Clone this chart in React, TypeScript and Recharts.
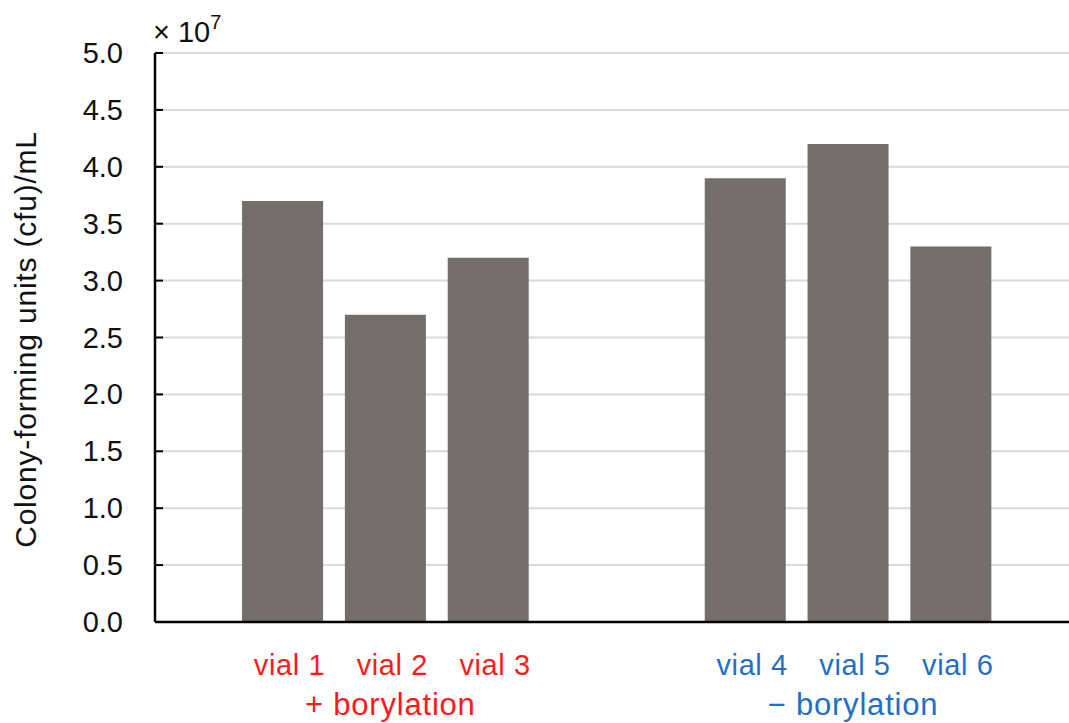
import React from 'react';
import { BarChart, Bar, XAxis, YAxis, CartesianGrid, Label } from 'recharts';

const vialLabels = ['vial 1', 'vial 2', 'vial 3', 'vial 4', 'vial 5', 'vial 6'];
const vialPositions = [1, 2, 3, 5.5, 6.5, 7.5];
const cfuValues = [3.7, 2.7, 3.2, 3.9, 4.2, 3.3];
const vialGroup = [0, 0, 0, 1, 1, 1];
const groupLabels = ['+ borylation', '\u2212 borylation'];
const groupColors = ['#ff1a1a', '#1f6fc5'];
const groupCenterIndex = [1, 4];
const yTicks = [0, 0.5, 1, 1.5, 2, 2.5, 3, 3.5, 4, 4.5, 5];

const FONT = '"Liberation Sans", Arial, Helvetica, sans-serif';
const TICK_MARGIN = 32;
const TEXT = '#111';

const data = vialPositions.map((pos, i) => ({ pos, label: vialLabels[i], value: cfuValues[i] }));

const XTick = (props: any) => {
  const { x, y, payload } = props;
  const i = vialPositions.indexOf(payload.value);
  if (i < 0) return null;
  const g = vialGroup[i];
  const color = groupColors[g];
  const gi = groupCenterIndex.indexOf(i);
  return (
    <g>
      <text x={x + 7} y={y + 53} textAnchor="middle" fill={color} fontSize={29} letterSpacing={0.6} fontFamily={FONT}>
        {vialLabels[i]}
      </text>
      {gi >= 0 && (
        <text x={x + 5} y={y + 93} textAnchor="middle" fill={color} fontSize={31} letterSpacing={0.8} fontFamily={FONT}>
          {groupLabels[gi]}
        </text>
      )}
    </g>
  );
};

const YTick = (props: any) => {
  const { x, y, payload } = props;
  const ax = x + TICK_MARGIN;
  return (
    <g>
      <line x1={ax} x2={ax + 8} y1={y} y2={y} stroke="#000" strokeWidth={2} />
      <text x={x} y={y} dy={10} textAnchor="end" fill={TEXT} fontSize={29} fontFamily={FONT}>
        {payload.value.toFixed(1)}
      </text>
    </g>
  );
};

const YTitle = (props: any) => {
  const vb = props.viewBox;
  const cx = 25;
  const cy = vb.y + vb.height / 2 + 2;
  return (
    <text
      x={cx}
      y={cy}
      transform={`rotate(-90, ${cx}, ${cy})`}
      textAnchor="middle"
      dominantBaseline="central"
      fill={TEXT}
      fontSize={30}
      letterSpacing={0.8}
      fontFamily={FONT}
    >
      Colony-forming units (cfu)/mL
    </text>
  );
};

const Multiplier = (props: any) => {
  const vb = props.viewBox;
  const x = vb.x + vb.width - 2;
  const y = vb.y - 11;
  return (
    <text x={x} y={y} fill={TEXT} fontSize={29} fontFamily={FONT}>
      <tspan>{'\u00d7 10'}</tspan>
      <tspan fontSize={20} dy={-13}>7</tspan>
    </text>
  );
};

export default function App() {
  return (
    <div style={{ position: 'absolute', left: 0, top: 0, background: '#fff' }}>
      <BarChart
        width={1069}
        height={723}
        data={data}
        margin={{ top: 53, right: 0, bottom: 0, left: 0 }}
      >
        <CartesianGrid vertical={false} stroke="#d9d9d9" strokeWidth={2} />
        <XAxis
          dataKey="pos"
          type="number"
          domain={[-0.24, 8.65]}
          ticks={vialPositions}
          interval={0}
          height={101}
          tickSize={0}
          tickMargin={0}
          tickLine={false}
          axisLine={{ stroke: '#000', strokeWidth: 2.5 }}
          tick={<XTick />}
          allowDataOverflow
        />
        <YAxis
          type="number"
          domain={[0, 5]}
          ticks={yTicks}
          interval={0}
          width={155}
          tickSize={0}
          tickMargin={TICK_MARGIN}
          tickLine={false}
          axisLine={{ stroke: '#000', strokeWidth: 2.5 }}
          tick={<YTick />}
        >
          <Label content={<YTitle />} />
          <Label content={<Multiplier />} />
        </YAxis>
        <Bar dataKey="value" fill="#736e6b" barSize={81} isAnimationActive={false} />
      </BarChart>
    </div>
  );
}
